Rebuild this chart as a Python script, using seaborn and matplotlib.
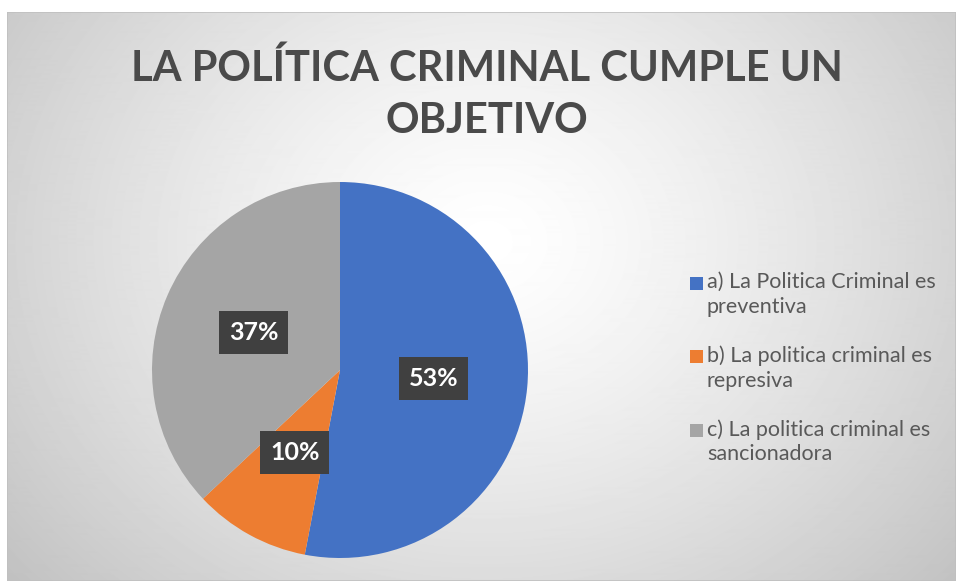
import numpy as np
import matplotlib
matplotlib.use("Agg")
import matplotlib.pyplot as plt
import seaborn as sns

# data
categories = ["a) La Politica Criminal es\npreventiva",
              "b) La politica criminal es\nrepresiva",
              "c) La politica criminal es\nsancionadora"]
shares = [53, 10, 37]
colors = ["#4472C4", "#ED7D31", "#A5A5A5"]
title = "LA POLÍTICA CRIMINAL CUMPLE UN\nOBJETIVO"

sns.set_theme(style="white")
plt.rcParams['font.family'] = ['Lato', 'DejaVu Sans']

fig = plt.figure(figsize=(9.56, 5.81), dpi=100)
W, H = 956, 581

# radial gradient background (chart area starts a bit in from top/left)
bg = fig.add_axes([7 / W, 0, 1 - 7 / W, 1 - 12 / H])
yy, xx = np.mgrid[0:570, 0:949]
d = np.sqrt(((xx - 480) / 620.0) ** 2 + ((yy - 230) / 520.0) ** 2)
shade = np.clip(1.0 - 0.24 * d ** 1.3, 0, 1)
bg.imshow(shade, cmap="gray", vmin=0, vmax=1, aspect="auto", interpolation="bilinear")
bg.set_axis_off()
bg.add_patch(plt.Rectangle((-0.5, -0.5), 949, 570, fill=False, edgecolor="#c0c0c0", lw=1.2))

# pie
r = 188
ax = fig.add_axes([(340 - r) / W, 1 - (370 + r) / H, 2 * r / W, 2 * r / H])
wedges, texts, autotexts = ax.pie(
    shares, colors=colors, startangle=90, counterclock=False,
    autopct=lambda p: f"{round(p):d}%", pctdistance=0.5,
    wedgeprops=dict(linewidth=0),
    textprops=dict(color="white", fontsize=18, fontweight="bold"))
for t in autotexts:
    t.set_bbox(dict(boxstyle="square,pad=0.4", facecolor="#404040", edgecolor="none"))
ax.set_xlim(-1, 1)
ax.set_ylim(-1, 1)
ax.set_aspect("equal")
ax.set_axis_off()

fig.text(487 / W, 1 - 94 / H, title, ha="center", va="center", fontsize=30,
         fontweight="bold", color="#4a4a4a", linespacing=1.45)

# legend, square aligned with first text line
for i, (lab, col) in enumerate(zip(categories, colors)):
    y = 283 + 73.5 * i
    fig.patches.append(plt.Rectangle((690 / W, 1 - (y + 6.5) / H), 13 / W, 13 / H,
                                     transform=fig.transFigure, facecolor=col,
                                     edgecolor="none"))
    fig.text(707 / W, 1 - (y - 11) / H, lab, ha="left", va="top", fontsize=15.5,
             color="#595959", linespacing=1.3)

fig.savefig("out.png", dpi=100)
